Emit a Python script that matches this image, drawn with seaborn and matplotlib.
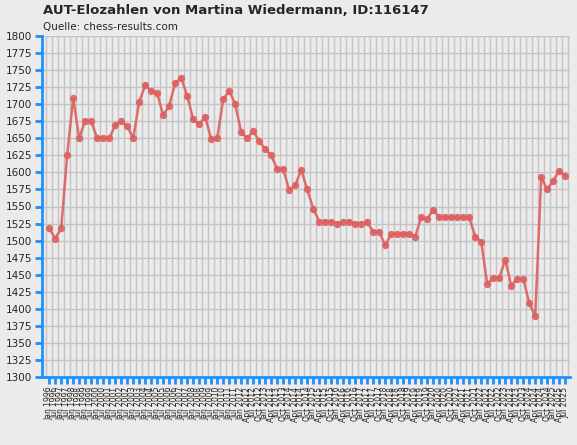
import matplotlib
matplotlib.use("Agg")
import matplotlib.pyplot as plt
import seaborn as sns
import pandas as pd

elo = [1518, 1503, 1518, 1626, 1709, 1650, 1676, 1675, 1650, 1651, 1650, 1669, 1675, 1668, 1650,
       1703, 1728, 1719, 1716, 1684, 1698, 1731, 1739, 1712, 1678, 1671, 1681, 1649, 1650, 1707,
       1720, 1700, 1659, 1650, 1661, 1646, 1634, 1625, 1605, 1605, 1574, 1581, 1604, 1575, 1547,
       1528, 1528, 1528, 1525, 1528, 1528, 1525, 1525, 1527, 1513, 1513, 1493, 1510, 1510, 1510,
       1510, 1506, 1534, 1532, 1545, 1534, 1534, 1534, 1534, 1534, 1534, 1506, 1498, 1437, 1445,
       1445, 1472, 1434, 1444, 1444, 1409, 1389, 1593, 1575, 1588, 1602, 1595]

semi_years = ["1996", "1997", "1998", "1999", "2000", "2001", "2002", "2003", "2004", "2005",
              "2006", "2007", "2008", "2009", "2010", "2011"]
quarter_years = ["2012", "2013", "2014", "2015", "2016", "2017", "2018", "2019", "2020",
                 "2021", "2022", "2023", "2024", "2025"]
labels = []
for y in semi_years:
    labels += ["Jan " + y, "Jul " + y]
for y in quarter_years:
    labels += [m + " " + y for m in ["Jan", "Apr", "Jul", "Oct"]]
labels = labels[:len(elo)]

df = pd.DataFrame({"idx": range(len(elo)), "elo": elo})

sns.set_theme(style="white")
plt.rcParams['font.family'] = ['DejaVu Sans']
fig = plt.figure(figsize=(5.77, 4.45), dpi=100, facecolor="#ebebeb")
ax = fig.add_axes([42/577, 1-377/445, (570-42)/577, (377-36)/445])
ax.set_facecolor("#ebebeb")

sns.lineplot(data=df, x="idx", y="elo", ax=ax, color="#dd6060", alpha=0.9, linewidth=1.8,
             marker="o", markersize=4.5, markeredgecolor="#dd6060")

ax.set_xlim(-1.2, len(elo) - 0.2)
ax.set_ylim(1300, 1800)
ax.set_yticks(range(1300, 1801, 25))
ax.set_yticklabels([str(v) for v in range(1300, 1801, 25)], fontsize=7.5)
ax.set_xticks(range(len(elo)))
ax.set_xticklabels(labels, rotation=90, fontsize=5.5)
ax.set_xticks([i + 0.5 for i in range(-1, len(elo))], minor=True)
ax.grid(True, which="minor", axis="x", color="#c4c4c4", linewidth=1)
ax.grid(True, which="major", axis="y", color="#c4c4c4", linewidth=1)
ax.set_axisbelow(True)
ax.set_xlabel("")
ax.set_ylabel("")
for s in ["top", "right"]:
    ax.spines[s].set_visible(False)
for s in ["left", "bottom"]:
    ax.spines[s].set_color("#1e90ff")
    ax.spines[s].set_linewidth(2)
ax.tick_params(axis="both", which="major", bottom=True, left=True, color="#1e90ff",
               length=5, width=2, pad=2)
ax.tick_params(axis="x", which="minor", bottom=False, length=0)

fig.text(43/577, 1-11/445, "AUT-Elozahlen von Martina Wiedermann, ID:116147", fontsize=9.5,
         fontweight="bold", va="center", ha="left")
fig.text(43/577, 1-27/445, "Quelle: chess-results.com", fontsize=7.5, va="center", ha="left")

fig.savefig("out.png", dpi=100, facecolor="#ebebeb")
